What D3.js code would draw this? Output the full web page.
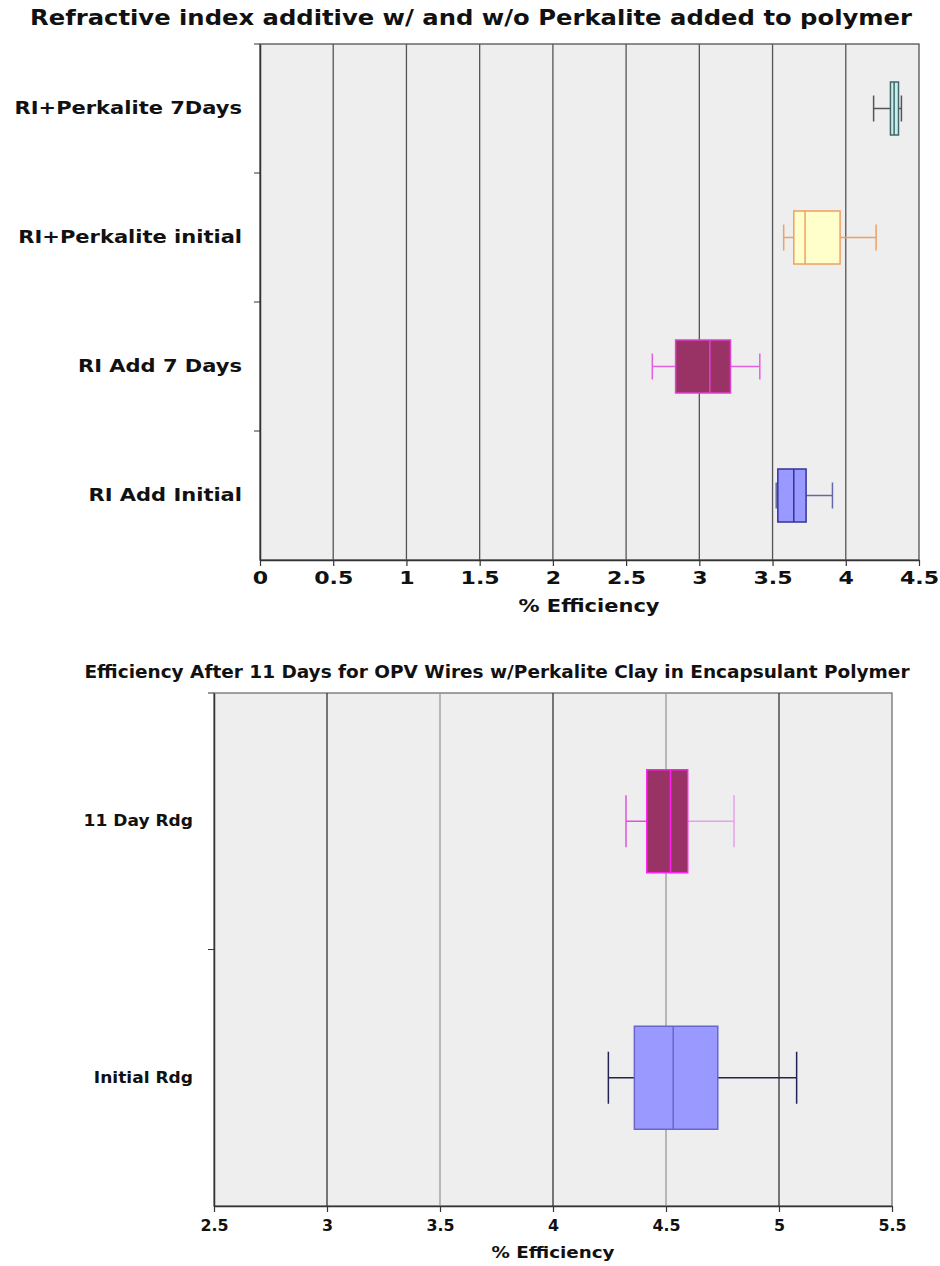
<!DOCTYPE html>
<html><head><meta charset="utf-8">
<script src="https://cdn.jsdelivr.net/npm/d3@7/dist/d3.min.js"></script>
<style>body{margin:0;background:#fff}svg{display:block}</style>
</head><body>
<svg id="c" width="940" height="1266"></svg>
<script>
// ---- Chart 1 data ----
const cats1 = ["RI+Perkalite 7Days","RI+Perkalite initial","RI Add 7 Days","RI Add Initial"];
const min1 = [4.19, 3.576, 2.679, 3.525];
const q1_1 = [4.305, 3.645, 2.838, 3.536];
const med1 = [4.33, 3.722, 3.072, 3.645];
const q3_1 = [4.36, 3.961, 3.213, 3.729];
const max1 = [4.38, 4.207, 3.413, 3.909];
const ticks1 = [0,0.5,1,1.5,2,2.5,3,3.5,4,4.5];
const fill1 = ["#c6f0ee","#ffffcc","#993366","#9999ff"];
const stroke1 = ["#446666","#f0a060","#e040d0","#333399"];
const whisk1 = ["#555555","#f0a060","#e060e0","#6666aa"];

// ---- Chart 2 data ----
const cats2 = ["11 Day Rdg","Initial Rdg"];
const min2 = [4.323, 4.245];
const q1_2 = [4.415, 4.36];
const med2 = [4.52, 4.532];
const q3_2 = [4.596, 4.729];
const max2 = [4.801, 5.078];
const ticks2 = [2.5,3,3.5,4,4.5,5,5.5];
const fill2 = ["#993366","#9999ff"];
const stroke2 = ["#ff22ee","#6666cc"];
const whiskL2 = ["#e050e0","#222255"];
const whiskR2 = ["#e8a0e8","#222255"];

const svg = d3.select("#c");

function stretch(sel, f){
  sel.each(function(){
    const w = this.getComputedTextLength();
    d3.select(this).attr("textLength", w*f).attr("lengthAdjust","spacingAndGlyphs");
  });
}

function drawChart(o){
  const g = svg.append("g");
  const x = d3.scaleLinear().domain(o.domain).range([o.left,o.right]);
  const y = d3.scaleBand().domain(o.cats).range([o.top,o.bottom]);
  g.append("rect").attr("x",o.left).attr("y",o.top).attr("width",o.right-o.left).attr("height",o.bottom-o.top)
    .attr("fill","#eeeeee").attr("stroke",o.frame).attr("stroke-width",1.2);
  g.selectAll(".grid").data(o.ticks.slice(1,-1)).enter().append("line")
    .attr("x1",d=>x(d)).attr("x2",d=>x(d)).attr("y1",o.top).attr("y2",o.bottom)
    .attr("stroke",d=>o.gridColor(d)).attr("stroke-width",o.gridWidth);
  const xa = g.append("g").attr("transform",`translate(0,${o.bottom})`)
    .call(d3.axisBottom(x).tickValues(o.ticks).tickSize(6).tickSizeOuter(0).tickFormat(d3.format("~g")));
  xa.select(".domain").attr("stroke",o.axisColor).attr("stroke-width",1.5);
  xa.selectAll(".tick line").attr("stroke",o.axisColor).attr("stroke-width",1.2);
  const xt = xa.selectAll("text").attr("font-family",o.tickFont).attr("font-weight",o.tickWeight)
    .attr("font-size",o.tickSize).attr("fill","#111").attr("y",o.tickY).attr("dy","0");
  stretch(xt, o.tickStretch);
  const ya = g.append("g").attr("transform",`translate(${o.left},0)`)
    .call(d3.axisLeft(y).tickSize(0));
  ya.select(".domain").attr("stroke",o.axisColor).attr("stroke-width",1.5);
  const yt = ya.selectAll("text").attr("font-family",o.font).attr("font-weight","bold")
    .attr("font-size",o.labelSize).attr("fill","#111").attr("x",-o.labelGap);
  stretch(yt, o.labelStretch);
  const seps = [o.top].concat(o.cats.slice(1).map(c=>y(c)));
  g.selectAll(".sep").data(seps).enter().append("line")
    .attr("x1",o.left-6).attr("x2",o.left).attr("y1",d=>d).attr("y2",d=>d)
    .attr("stroke",o.axisColor).attr("stroke-width",1);
  const bh = o.boxH, ch = o.capH;
  o.cats.forEach((c,i)=>{
    const cy = y(c)+y.bandwidth()/2;
    g.append("line").attr("x1",x(o.min[i])).attr("x2",x(o.q1[i])).attr("y1",cy).attr("y2",cy)
      .attr("stroke",o.wl[i]).attr("stroke-width",1.5);
    g.append("line").attr("x1",x(o.q3[i])).attr("x2",x(o.max[i])).attr("y1",cy).attr("y2",cy)
      .attr("stroke",o.wr[i]).attr("stroke-width",1.5);
    g.append("line").attr("x1",x(o.min[i])).attr("x2",x(o.min[i])).attr("y1",cy-ch/2).attr("y2",cy+ch/2)
      .attr("stroke",o.wl[i]).attr("stroke-width",1.5);
    g.append("line").attr("x1",x(o.max[i])).attr("x2",x(o.max[i])).attr("y1",cy-ch/2).attr("y2",cy+ch/2)
      .attr("stroke",o.wr[i]).attr("stroke-width",1.5);
    g.append("rect").attr("x",x(o.q1[i])).attr("y",cy-bh/2).attr("width",x(o.q3[i])-x(o.q1[i])).attr("height",bh)
      .attr("fill",o.fill[i]).attr("stroke",o.stroke[i]).attr("stroke-width",1.5);
    g.append("line").attr("x1",x(o.med[i])).attr("x2",x(o.med[i])).attr("y1",cy-bh/2).attr("y2",cy+bh/2)
      .attr("stroke",o.stroke[i]).attr("stroke-width",1.5);
  });
  g.append("text").attr("x",o.titleX).attr("y",o.titleY).attr("text-anchor","middle")
    .attr("font-family",o.titleFont).attr("font-weight",o.titleWeight).attr("font-size",o.titleSize)
    .attr("fill","#111").attr("textLength",o.titleLen).attr("lengthAdjust","spacingAndGlyphs").text(o.title);
  g.append("text").attr("x",o.xlabX).attr("y",o.xlabY).attr("text-anchor","middle")
    .attr("font-family",o.tickFont).attr("font-weight",o.xlabWeight).attr("font-size",o.xlabSize)
    .attr("fill","#111").attr("textLength",o.xlabLen).attr("lengthAdjust","spacingAndGlyphs").text("% Efficiency");
}

drawChart({
  cats:cats1, min:min1, q1:q1_1, med:med1, q3:q3_1, max:max1,
  fill:fill1, stroke:stroke1, wl:whisk1, wr:whisk1,
  domain:[0,4.5], ticks:ticks1, left:260, right:919, top:44, bottom:560,
  frame:"#444", axisColor:"#333", gridColor:()=>"#555", gridWidth:1.3,
  font:"DejaVu Sans", tickFont:"DejaVu Sans", tickWeight:"bold", tickSize:17, tickY:24, tickStretch:1.3,
  labelSize:17.5, labelGap:18, labelStretch:1.2, boxH:53, capH:26,
  title:"Refractive index additive w/ and w/o Perkalite added to polymer",
  titleX:471, titleY:25, titleFont:"DejaVu Sans Condensed", titleWeight:"bold", titleSize:21, titleLen:882,
  xlabX:589, xlabY:612, xlabWeight:"bold", xlabSize:17, xlabLen:141
});

drawChart({
  cats:cats2, min:min2, q1:q1_2, med:med2, q3:q3_2, max:max2,
  fill:fill2, stroke:stroke2, wl:whiskL2, wr:whiskR2,
  domain:[2.5,5.5], ticks:ticks2, left:214, right:892, top:693, bottom:1206,
  frame:"#666", axisColor:"#333", gridColor:d=>(Number.isInteger(d)?"#333":"#999"), gridWidth:1.3,
  font:"DejaVu Sans", tickFont:"DejaVu Sans Condensed", tickWeight:"bold", tickSize:16, tickY:25, tickStretch:1.1,
  labelSize:15.5, labelGap:21, labelStretch:1.1, boxH:103, capH:52,
  title:"Efficiency After 11 Days for OPV Wires w/Perkalite Clay in Encapsulant Polymer",
  titleX:497, titleY:678, titleFont:"DejaVu Sans Condensed", titleWeight:"bold", titleSize:17, titleLen:825,
  xlabX:553, xlabY:1258, xlabWeight:"bold", xlabSize:16, xlabLen:123
});
</script>
</body></html>
